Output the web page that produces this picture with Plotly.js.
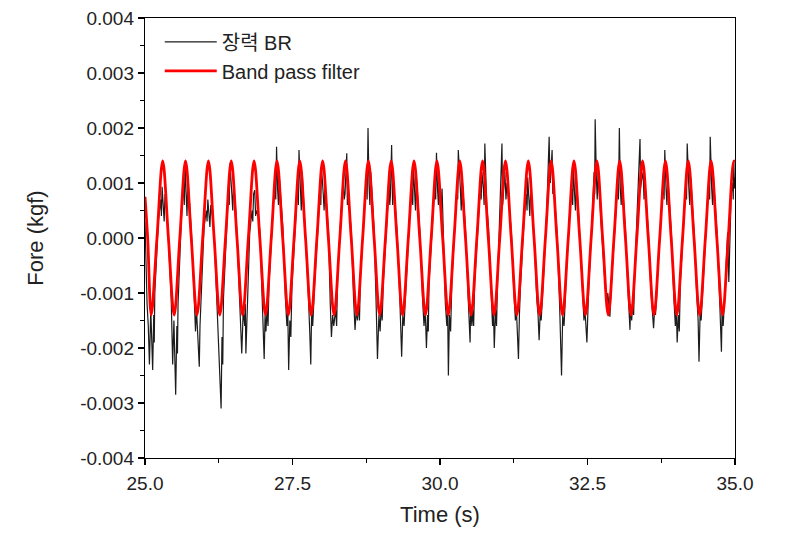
<!DOCTYPE html>
<html>
<head>
<meta charset="utf-8">
<script src="https://cdn.plot.ly/plotly-3.0.1.min.js"></script>
<style>html,body{margin:0;padding:0;background:#fff;}#chart{width:788px;height:533px;}</style>
</head>
<body>
<div id="chart"></div>
<script>
// Raw tension signal "장력 BR" (time in s, force in kgf), one line per oscillation cycle
const brTime = [
  25.000, 25.015, 25.035,
  25.056, 25.075, 25.098, 25.130, 25.148, 25.157, 25.166, 25.226, 25.265, 25.278, 25.290, 25.310, 25.325, 25.340, 25.370, 25.400,
  25.444, 25.469, 25.490, 25.520, 25.540, 25.550, 25.560, 25.614, 25.652, 25.666, 25.680, 25.697, 25.712, 25.727, 25.757, 25.787,
  25.831, 25.856, 25.873, 25.900, 25.920, 25.932, 25.945, 26.001, 26.040, 26.052, 26.065, 26.085, 26.100, 26.115, 26.145, 26.175,
  26.218, 26.243, 26.262, 26.290, 26.305, 26.318, 26.330, 26.388, 26.415, 26.428, 26.440, 26.472, 26.487, 26.502, 26.532, 26.562,
  26.605, 26.625, 26.640, 26.665, 26.690, 26.700, 26.710, 26.775, 26.814, 26.827, 26.840, 26.860, 26.875, 26.889, 26.919, 26.949,
  26.993, 27.020, 27.035, 27.050, 27.068, 27.085, 27.103, 27.163, 27.202, 27.216, 27.230, 27.247, 27.262, 27.277, 27.307, 27.337,
  27.380, 27.405, 27.420, 27.435, 27.455, 27.472, 27.490, 27.550, 27.589, 27.600, 27.610, 27.634, 27.649, 27.664, 27.694, 27.724,
  27.767, 27.792, 27.810, 27.825, 27.842, 27.860, 27.877, 27.937, 27.970, 27.980, 27.990, 28.021, 28.036, 28.051, 28.081, 28.111,
  28.140, 28.160, 28.180, 28.200, 28.230, 28.248, 28.265, 28.325, 28.363, 28.377, 28.390, 28.420, 28.430, 28.440, 28.469, 28.498,
  28.535, 28.560, 28.580, 28.600, 28.617, 28.635, 28.652, 28.712, 28.750, 28.765, 28.780, 28.796, 28.811, 28.826, 28.856, 28.886,
  28.920, 28.940, 28.965, 28.985, 29.004, 29.020, 29.039, 29.099, 29.138, 29.149, 29.160, 29.180, 29.197, 29.213, 29.243, 29.273,
  29.316, 29.335, 29.350, 29.370, 29.391, 29.408, 29.426, 29.486, 29.525, 29.538, 29.550, 29.570, 29.585, 29.600, 29.630, 29.660,
  29.704, 29.729, 29.750, 29.770, 29.790, 29.802, 29.814, 29.874, 29.913, 29.927, 29.940, 29.958, 29.973, 29.988, 30.012, 30.035,
  30.091, 30.116, 30.130, 30.142, 30.160, 30.180, 30.201, 30.261, 30.290, 30.300, 30.310, 30.345, 30.360, 30.375, 30.405, 30.435,
  30.478, 30.510, 30.520, 30.540, 30.553, 30.570, 30.588, 30.648, 30.687, 30.698, 30.710, 30.735, 30.748, 30.760, 30.791, 30.822,
  30.866, 30.891, 30.906, 30.920, 30.941, 30.958, 30.976, 31.020, 31.050, 31.062, 31.075, 31.100, 31.118, 31.135, 31.172, 31.210,
  31.253, 31.278, 31.295, 31.310, 31.330, 31.346, 31.363, 31.423, 31.462, 31.475, 31.487, 31.507, 31.522, 31.537, 31.567, 31.597,
  31.640, 31.662, 31.680, 31.700, 31.715, 31.732, 31.750, 31.810, 31.850, 31.860, 31.870, 31.900, 31.912, 31.924, 31.954, 31.984,
  32.027, 32.045, 32.060, 32.080, 32.102, 32.120, 32.137, 32.197, 32.236, 32.249, 32.261, 32.281, 32.296, 32.311, 32.341, 32.371,
  32.415, 32.440, 32.457, 32.475, 32.490, 32.508, 32.525, 32.585, 32.612, 32.621, 32.630, 32.650, 32.665, 32.680, 32.710, 32.740,
  32.802, 32.827, 32.844, 32.862, 32.880, 32.896, 32.912, 32.972, 33.011, 33.025, 33.040, 33.056, 33.071, 33.086, 33.116, 33.146,
  33.189, 33.220, 33.231, 33.249, 33.264, 33.282, 33.299, 33.350, 33.390, 33.400, 33.410, 33.443, 33.458, 33.473, 33.503, 33.533,
  33.577, 33.600, 33.620, 33.637, 33.652, 33.670, 33.687, 33.747, 33.786, 33.798, 33.810, 33.831, 33.846, 33.861, 33.891, 33.921,
  33.964, 33.989, 34.006, 34.020, 34.039, 34.056, 34.074, 34.134, 34.168, 34.179, 34.190, 34.218, 34.233, 34.248, 34.278, 34.308,
  34.351, 34.375, 34.390, 34.410, 34.426, 34.444, 34.461, 34.521, 34.560, 34.570, 34.580, 34.605, 34.620, 34.635, 34.665, 34.695,
  34.739, 34.770, 34.781, 34.799, 34.814, 34.832, 34.849, 34.875, 34.895, 34.915, 34.935, 34.960, 34.970, 34.980, 34.990, 35.000
];
const brForce = [
  0.0003, -0.0005, -0.0012,
  -0.0016, -0.0023, -0.0013, -0.0024, -0.0014, -0.0019, -0.0010, 0.0003, 0.0007, 0.0004, 0.00093, 0.0006, 0.0003, 0.0008, 0.0005, -0.0001,
  -0.0011, -0.0023, -0.0015, -0.00285, -0.0016, -0.0021, -0.0012, 0.0003, 0.0010, 0.0006, 0.00139, 0.0008, 0.0004, 0.0011, 0.0006, 0.0001,
  -0.0010, -0.0017, -0.0013, -0.0018, -0.00234, -0.0016, -0.0012, 0.0002, 0.0005, 0.0003, 0.0007, 0.0004, 0.0002, 0.0006, 0.0004, 0.0000,
  -0.0011, -0.0017, -0.0022, -0.0031, -0.0018, -0.0023, -0.0011, 0.0003, 0.0009, 0.0006, 0.00136, 0.0008, 0.0005, 0.0010, 0.0006, 0.0000,
  -0.0010, -0.0015, -0.0021, -0.0013, -0.0016, -0.0012, -0.0021, 0.0001, 0.0005, 0.0003, 0.0008, 0.00087, 0.0004, 0.0005, 0.0004, 0.0001,
  -0.0012, -0.0022, -0.0014, -0.0017, -0.0013, -0.0016, -0.0008, 0.0004, 0.0011, 0.0007, 0.00166, 0.0009, 0.0006, 0.0011, 0.0006, 0.0002,
  -0.0011, -0.0016, -0.0013, -0.0024, -0.0015, -0.0018, -0.0009, 0.0004, 0.0010, 0.0006, 0.0016, 0.0009, 0.0005, 0.0012, 0.0006, 0.0001,
  -0.0010, -0.0017, -0.0023, -0.0013, -0.0016, -0.0012, -0.0008, 0.0003, 0.0010, 0.0006, 0.0013, 0.0008, 0.0005, 0.0010, 0.0006, 0.0001,
  -0.0012, -0.0018, -0.0014, -0.0016, -0.0013, -0.0016, -0.0007, 0.0005, 0.0010, 0.0007, 0.0008, 0.00154, 0.0006, 0.0009, 0.0005, 0.0001,
  -0.0011, -0.00167, -0.0013, -0.0015, -0.0012, -0.0015, -0.0007, 0.0005, 0.0011, 0.0007, 0.0020, 0.0010, 0.0006, 0.0012, 0.0006, 0.0001,
  -0.0013, -0.0022, -0.0014, -0.0017, -0.0012, -0.0015, -0.0008, 0.0004, 0.0010, 0.0006, 0.0008, 0.00169, 0.0006, 0.0010, 0.0006, 0.0001,
  -0.0010, -0.0015, -0.00216, -0.0014, -0.0016, -0.0012, -0.0008, 0.0004, 0.0009, 0.0006, 0.0013, 0.0008, 0.0005, 0.0011, 0.0006, 0.0001,
  -0.0011, -0.0016, -0.0013, -0.0020, -0.0014, -0.0017, -0.0008, 0.0004, 0.0010, 0.0007, 0.00155, 0.0009, 0.0006, 0.0011, 0.0004, 0.0009,
  -0.0012, -0.0016, -0.0013, -0.0025, -0.0014, -0.0017, -0.0008, 0.0004, 0.0010, 0.0007, 0.0016, 0.0009, 0.0005, 0.0011, 0.0006, 0.0001,
  -0.0011, -0.0019, -0.0012, -0.0016, -0.0013, -0.0016, -0.0008, 0.0004, 0.0010, 0.0007, 0.0012, 0.0009, 0.0006, 0.00172, 0.0006, 0.0002,
  -0.0010, -0.0016, -0.0013, -0.0020, -0.0013, -0.0016, -0.0008, 0.0007, 0.00172, 0.0006, 0.0009, 0.0012, 0.0007, 0.0010, 0.0006, 0.0001,
  -0.0010, -0.0015, -0.0013, -0.0017, -0.0022, -0.0014, -0.0009, 0.0003, 0.0008, 0.0005, 0.0011, 0.0007, 0.0004, 0.0009, 0.0005, 0.0000,
  -0.0011, -0.0014, -0.00186, -0.0013, -0.0015, -0.0012, -0.0008, 0.0005, 0.00184, 0.0012, 0.0010, 0.0016, 0.0008, 0.0010, 0.0006, 0.0001,
  -0.0012, -0.0020, -0.0025, -0.0014, -0.0016, -0.0012, -0.0007, 0.0004, 0.0009, 0.0006, 0.0013, 0.0008, 0.0005, 0.0010, 0.0006, 0.0000,
  -0.0010, -0.0015, -0.0013, -0.0016, -0.0019, -0.0013, -0.0008, 0.0005, 0.0012, 0.0008, 0.00216, 0.0011, 0.0007, 0.0012, 0.0006, 0.0001,
  -0.0009, -0.0012, -0.0010, -0.0013, -0.00143, -0.0010, -0.0007, 0.0004, 0.0010, 0.0007, 0.0020, 0.0009, 0.0006, 0.0011, 0.0006, 0.0001,
  -0.0010, -0.00167, -0.0012, -0.0015, -0.0012, -0.0014, -0.0007, 0.0006, 0.0018, 0.0009, 0.0010, 0.0012, 0.0007, 0.0010, 0.0006, 0.0001,
  -0.0010, -0.0014, -0.00164, -0.0013, -0.0014, -0.0011, -0.0007, 0.0004, 0.0010, 0.0007, 0.0016, 0.0009, 0.0006, 0.0011, 0.0006, 0.0001,
  -0.0011, -0.0016, -0.0013, -0.0019, -0.0014, -0.0017, -0.0008, 0.0004, 0.0010, 0.0007, 0.00172, 0.0009, 0.0006, 0.0011, 0.0006, 0.0001,
  -0.0010, -0.0015, -0.00225, -0.0013, -0.0015, -0.0012, -0.0008, 0.0004, 0.0010, 0.0007, 0.00184, 0.0009, 0.0006, 0.0011, 0.0006, 0.0001,
  -0.0011, -0.00207, -0.0013, -0.0016, -0.0013, -0.0010, -0.0005, 0.0001, -0.0008, 0.0003, 0.0008, 0.0010, 0.0007, 0.00142, 0.0009, 0.0011
];

// Band pass filter output: extremes and zero crossings
const bpTime = [
  25.000, 25.045, 25.106, 25.203, 25.300, 25.397, 25.494, 25.590, 25.687, 25.784,
  25.881, 25.978, 26.075, 26.172, 26.268, 26.365, 26.462, 26.559, 26.655, 26.752,
  26.849, 26.946, 27.043, 27.140, 27.237, 27.334, 27.430, 27.527, 27.624, 27.721,
  27.817, 27.914, 28.011, 28.108, 28.205, 28.302, 28.398, 28.495, 28.592, 28.689,
  28.786, 28.883, 28.979, 29.076, 29.173, 29.270, 29.366, 29.463, 29.560, 29.657,
  29.754, 29.851, 29.948, 30.045, 30.141, 30.238, 30.335, 30.432, 30.528, 30.625,
  30.722, 30.819, 30.916, 31.013, 31.110, 31.207, 31.303, 31.400, 31.497, 31.594,
  31.690, 31.787, 31.884, 31.981, 32.077, 32.174, 32.271, 32.368, 32.465, 32.562,
  32.659, 32.756, 32.852, 32.949, 33.046, 33.143, 33.239, 33.336, 33.433, 33.530,
  33.627, 33.724, 33.821, 33.918, 34.014, 34.111, 34.208, 34.305, 34.401, 34.498,
  34.595, 34.692, 34.789, 34.886, 34.983, 35.000
];
const bpForce = [
  0.00075, 0.0, -0.00140, 0.0, 0.00140, 0.0, -0.00140, 0.0, 0.00140, 0.0,
  -0.00140, 0.0, 0.00140, 0.0, -0.00140, 0.0, 0.00140, 0.0, -0.00140, 0.0,
  0.00140, 0.0, -0.00140, 0.0, 0.00140, 0.0, -0.00140, 0.0, 0.00140, 0.0,
  -0.00140, 0.0, 0.00140, 0.0, -0.00140, 0.0, 0.00140, 0.0, -0.00140, 0.0,
  0.00140, 0.0, -0.00140, 0.0, 0.00140, 0.0, -0.00140, 0.0, 0.00140, 0.0,
  -0.00140, 0.0, 0.00140, 0.0, -0.00140, 0.0, 0.00140, 0.0, -0.00140, 0.0,
  0.00140, 0.0, -0.00140, 0.0, 0.00140, 0.0, -0.00140, 0.0, 0.00140, 0.0,
  -0.00140, 0.0, 0.00140, 0.0, -0.00140, 0.0, 0.00140, 0.0, -0.00140, 0.0,
  0.00140, 0.0, -0.00140, 0.0, 0.00140, 0.0, -0.00140, 0.0, 0.00140, 0.0,
  -0.00140, 0.0, 0.00140, 0.0, -0.00140, 0.0, 0.00140, 0.0, -0.00140, 0.0,
  0.00140, 0.0, -0.00140, 0.0, 0.00140, 0.00138
];

const seriesNames = ['장력 BR', 'Band pass filter'];
const xTickVals = [25.0, 27.5, 30.0, 32.5, 35.0];
const xTickText = ['25.0', '27.5', '30.0', '32.5', '35.0'];
const yTickVals = [-0.004, -0.003, -0.002, -0.001, 0.000, 0.001, 0.002, 0.003, 0.004];
const yTickText = ['-0.004', '-0.003', '-0.002', '-0.001', '0.000', '0.001', '0.002', '0.003', '0.004'];

const FONT = 'Liberation Sans, Arial, Noto Sans CJK KR, sans-serif';

const traces = [
  {
    x: brTime, y: brForce, name: seriesNames[0], type: 'scatter', mode: 'lines',
    line: {color: '#1c1c1c', width: 1.2}
  },
  {
    x: bpTime, y: bpForce, name: seriesNames[1], type: 'scatter', mode: 'lines',
    line: {color: '#ff0000', width: 2.8, shape: 'spline', smoothing: 1}
  }
];

const axisCommon = {
  showgrid: false, zeroline: false, showline: true, linecolor: '#000', linewidth: 1.2,
  mirror: true, ticks: 'outside', ticklen: 6, tickwidth: 1.2, tickcolor: '#000',
  tickfont: {family: FONT, size: 19, color: '#222'}
};

const layout = {
  width: 788, height: 533,
  margin: {l: 145, r: 53, t: 18, b: 75},
  paper_bgcolor: '#fff', plot_bgcolor: '#fff',
  showlegend: true,
  legend: {
    x: 0.025, y: 0.99, xanchor: 'left', yanchor: 'top',
    bgcolor: 'rgba(0,0,0,0)', borderwidth: 0,
    font: {family: FONT, size: 20, color: '#222'},
    itemwidth: 52,
    tracegroupgap: 0
  },
  xaxis: Object.assign({}, axisCommon, {
    range: [25, 35], tickvals: xTickVals, ticktext: xTickText,
    ticklabelstandoff: 2,
    minor: {dtick: 1.25, ticks: 'outside', ticklen: 4, tickwidth: 1, tickcolor: '#000'},
    title: {text: 'Time (s)', font: {family: FONT, size: 22, color: '#222'}, standoff: 13}
  }),
  yaxis: Object.assign({}, axisCommon, {
    range: [-0.004, 0.004], tickvals: yTickVals, ticktext: yTickText,
    minor: {dtick: 0.0005, ticks: 'outside', ticklen: 4, tickwidth: 1, tickcolor: '#000'},
    title: {text: 'Fore (kgf)', font: {family: FONT, size: 22, color: '#222'}, standoff: 30}
  })
};

Plotly.newPlot('chart', traces, layout, {displayModeBar: false, staticPlot: true});
</script>
</body>
</html>
